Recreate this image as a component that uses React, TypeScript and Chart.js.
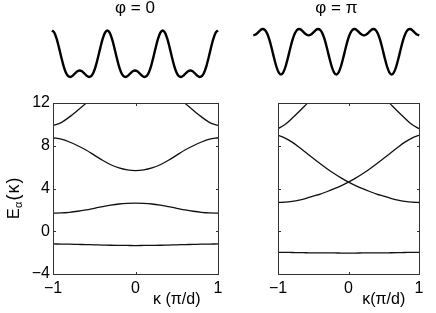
import React, { useEffect, useRef } from "react";
import { Chart, registerables } from "chart.js";

Chart.register(...registerables);

// ---- data ----
const KAPPA = [-1, -0.9, -0.8, -0.7, -0.6, -0.5, -0.4, -0.3, -0.2, -0.1, 0, 0.1, 0.2, 0.3, 0.4, 0.5, 0.6, 0.7, 0.8, 0.9, 1];

// phi = 0 bands
const BAND1_PHI0 = [-1.19, -1.2, -1.21, -1.23, -1.25, -1.27, -1.29, -1.31, -1.32, -1.33, -1.34, -1.33, -1.32, -1.31, -1.29, -1.27, -1.25, -1.23, -1.21, -1.2, -1.19];
const BAND2_PHI0 = [1.69, 1.71, 1.77, 1.87, 2.0, 2.15, 2.3, 2.44, 2.55, 2.61, 2.63, 2.61, 2.55, 2.44, 2.3, 2.15, 2.0, 1.87, 1.77, 1.71, 1.69];
const BAND3_PHI0 = [8.75, 8.62, 8.35, 8.0, 7.6, 7.12, 6.64, 6.22, 5.92, 5.74, 5.68, 5.74, 5.92, 6.22, 6.64, 7.12, 7.6, 8.0, 8.35, 8.62, 8.75];
const BAND4_PHI0 = [9.9, 10.17, 10.7, 11.32, 11.97, 12.64, 13.35, 14.05, 14.7, 15.2, 15.4, 15.2, 14.7, 14.05, 13.35, 12.64, 11.97, 11.32, 10.7, 10.17, 9.9];

// phi = pi bands
const BAND1_PHIPI = [-1.98, -1.98, -1.99, -2.0, -2.01, -2.02, -2.02, -2.03, -2.03, -2.04, -2.04, -2.04, -2.03, -2.03, -2.02, -2.02, -2.01, -2.0, -1.99, -1.98, -1.98];
const BAND_UP_PHIPI = [2.69, 2.72, 2.8, 2.92, 3.08, 3.28, 3.48, 3.72, 3.98, 4.27, 4.6, 4.97, 5.38, 5.83, 6.31, 6.82, 7.34, 7.86, 8.34, 8.72, 8.97];
const BAND_DOWN_PHIPI = [8.97, 8.72, 8.34, 7.86, 7.34, 6.82, 6.31, 5.83, 5.38, 4.97, 4.6, 4.27, 3.98, 3.72, 3.48, 3.28, 3.08, 2.92, 2.8, 2.72, 2.69];
const BAND4_PHIPI = [9.6, 9.98, 10.57, 11.2, 11.87, 12.55, 13.25, 13.95, 14.6, 15.1, 15.3, 15.1, 14.6, 13.95, 13.25, 12.55, 11.87, 11.2, 10.57, 9.98, 9.6];

const X_TICKS = [-1, 0, 1];
const Y_TICKS = [-4, 0, 4, 8, 12];

// potential profiles, sampled every 15 degrees of phase over three periods
const POT_STEP = 15;
const POT_PHI0 = [
  1.55, 1.442, 1.141, 0.707, 0.225, -0.217, -0.55, -0.735, -0.775, -0.707, -0.591, -0.49, -0.45, -0.49, -0.591, -0.707, -0.775, -0.735, -0.55, -0.217, 0.225, 0.707, 1.141, 1.442,
  1.55, 1.442, 1.141, 0.707, 0.225, -0.217, -0.55, -0.735, -0.775, -0.707, -0.591, -0.49, -0.45, -0.49, -0.591, -0.707, -0.775, -0.735, -0.55, -0.217, 0.225, 0.707, 1.141, 1.442,
  1.55, 1.442, 1.141, 0.707, 0.225, -0.217, -0.55, -0.735, -0.775, -0.707, -0.591, -0.49, -0.45, -0.49, -0.591, -0.707, -0.775, -0.735, -0.55, -0.217, 0.225, 0.707, 1.141, 1.442,
  1.55,
];
const POT_PHIPI = [
  0.45, 0.49, 0.591, 0.707, 0.775, 0.735, 0.55, 0.217, -0.225, -0.707, -1.141, -1.442, -1.55, -1.442, -1.141, -0.707, -0.225, 0.217, 0.55, 0.735, 0.775, 0.707, 0.591, 0.49,
  0.45, 0.49, 0.591, 0.707, 0.775, 0.735, 0.55, 0.217, -0.225, -0.707, -1.141, -1.442, -1.55, -1.442, -1.141, -0.707, -0.225, 0.217, 0.55, 0.735, 0.775, 0.707, 0.591, 0.49,
  0.45, 0.49, 0.591, 0.707, 0.775, 0.735, 0.55, 0.217, -0.225, -0.707, -1.141, -1.442, -1.55, -1.442, -1.141, -0.707, -0.225, 0.217, 0.55, 0.735, 0.775, 0.707, 0.591, 0.49,
  0.45,
];

const TITLE_LEFT = "\u03C6 = 0";
const TITLE_RIGHT = "\u03C6 = \u03C0";
const XTITLE_LEFT = "\u03BA (\u03C0/d)";
const XTITLE_RIGHT = "\u03BA(\u03C0/d)";

const FONT = "'Liberation Sans', Arial, Helvetica, sans-serif";

const fmt = (v: number) => (v < 0 ? "\u2212" + Math.abs(v) : String(v));

function frameAndText(opts: { xTitle: string; yTitle: boolean; yTitleY: number }) {
  return {
    id: "frameAndText",
    afterDraw(chart: any) {
      const { ctx, chartArea: a, scales } = chart;
      const xs = scales.x;
      const ys = scales.y;
      ctx.save();
      ctx.strokeStyle = "#333";
      ctx.lineWidth = 1;
      const L = Math.round(a.left) + 0.5;
      const R = Math.round(a.right) + 0.5;
      const T = Math.round(a.top) + 0.5;
      const B = Math.round(a.bottom) + 0.5;
      ctx.strokeRect(L, T, R - L, B - T);
      const tl = 2.5;
      ctx.beginPath();
      X_TICKS.forEach((v) => {
        const px = Math.round(xs.getPixelForValue(v)) + 0.5;
        if (px <= L + 1 || px >= R - 1) return;
        ctx.moveTo(px, B);
        ctx.lineTo(px, B - tl);
        ctx.moveTo(px, T);
        ctx.lineTo(px, T + tl);
      });
      Y_TICKS.forEach((v) => {
        const py = Math.round(ys.getPixelForValue(v)) + 0.5;
        if (py <= T + 1 || py >= B - 1) return;
        ctx.moveTo(L, py);
        ctx.lineTo(L + tl, py);
        ctx.moveTo(R, py);
        ctx.lineTo(R - tl, py);
      });
      ctx.stroke();

      // x axis title
      ctx.fillStyle = "#000";
      ctx.font = `16px ${FONT}`;
      ctx.textAlign = "center";
      ctx.textBaseline = "middle";
      ctx.fillText(opts.xTitle, xs.getPixelForValue(0.5), 210);

      if (opts.yTitle) {
        ctx.translate(18.5, opts.yTitleY);
        ctx.rotate(-Math.PI / 2);
        ctx.textAlign = "left";
        ctx.textBaseline = "alphabetic";
        ctx.font = `16px ${FONT}`;
        ctx.fillText("E", 0, 0);
        ctx.font = `11px ${FONT}`;
        ctx.fillText("\u03B1", 11, 3);
        ctx.font = `18px ${FONT}`;
        ctx.fillText("(", 18.5, 0);
        ctx.fillText("\u03BA", 25.5, 0);
        ctx.fillText(")", 35.5, 0);
      }
      ctx.restore();
    },
  };
}

function titlePlugin(text: string) {
  return {
    id: "potTitle",
    afterDraw(chart: any) {
      const { ctx, chartArea: a } = chart;
      ctx.save();
      ctx.fillStyle = "#000";
      ctx.font = `17px ${FONT}`;
      ctx.textAlign = "center";
      ctx.textBaseline = "middle";
      ctx.fillText(text, (a.left + a.right) / 2, 8);
      ctx.restore();
    },
  };
}

function bandConfig(bands: number[][], opts: { yLabels: boolean; padLeft: number; padRight: number; xTitle: string }) {
  return {
    type: "line",
    data: {
      datasets: bands.map((b) => ({
        data: KAPPA.map((k, i) => ({ x: k, y: b[i] })),
        borderColor: "#111",
        borderWidth: 1.3,
        pointRadius: 0,
        fill: false,
        cubicInterpolationMode: "monotone",
      })),
    },
    options: {
      animation: false,
      responsive: false,
      maintainAspectRatio: false,
      events: [],
      layout: { padding: { top: 13, right: opts.padRight, bottom: 0, left: opts.yLabels ? 0 : opts.padLeft } },
      plugins: { legend: { display: false }, tooltip: { enabled: false }, title: { display: false } },
      scales: {
        x: {
          type: "linear",
          min: -1,
          max: 1,
          afterBuildTicks: (s: any) => {
            s.ticks = X_TICKS.map((v) => ({ value: v }));
          },
          afterFit: (s: any) => {
            s.height = 39;
          },
          grid: { display: false, drawTicks: false },
          border: { display: false },
          ticks: {
            padding: 5,
            color: "#000",
            font: { size: 16, family: FONT },
            maxRotation: 0,
            autoSkip: false,
            callback: (v: number) => fmt(v),
          },
        },
        y: {
          type: "linear",
          min: -4,
          max: 12,
          display: opts.yLabels,
          afterBuildTicks: (s: any) => {
            s.ticks = Y_TICKS.map((v) => ({ value: v }));
          },
          afterFit: (s: any) => {
            s.width = opts.padLeft;
          },
          grid: { display: false, drawTicks: false },
          border: { display: false },
          ticks: {
            padding: 3,
            color: "#000",
            font: { size: 16, family: FONT },
            callback: (v: number) => fmt(v),
          },
        },
      },
    },
    plugins: [frameAndText({ xTitle: opts.xTitle, yTitle: opts.yLabels, yTitleY: 129 })],
  };
}

function potConfig(values: number[], pad: { left: number; right: number; top: number; bottom: number }, title: string) {
  let lo = Infinity;
  let hi = -Infinity;
  values.forEach((v) => {
    lo = Math.min(lo, v);
    hi = Math.max(hi, v);
  });
  return {
    type: "line",
    data: {
      datasets: [
        {
          data: values.map((v, i) => ({ x: i * POT_STEP, y: v })),
          borderColor: "#000",
          borderWidth: 2.4,
          pointRadius: 0,
          fill: false,
          cubicInterpolationMode: "monotone",
          clip: false,
        },
      ],
    },
    options: {
      animation: false,
      responsive: false,
      maintainAspectRatio: false,
      events: [],
      layout: { padding: pad },
      plugins: { legend: { display: false }, tooltip: { enabled: false } },
      scales: {
        x: { type: "linear", min: 0, max: (values.length - 1) * POT_STEP, display: false },
        y: { type: "linear", min: lo, max: hi, display: false },
      },
    },
    plugins: [titlePlugin(title)],
  };
}

export default function App() {
  const potL = useRef<HTMLCanvasElement>(null);
  const potR = useRef<HTMLCanvasElement>(null);
  const bandL = useRef<HTMLCanvasElement>(null);
  const bandR = useRef<HTMLCanvasElement>(null);

  useEffect(() => {
    const charts: Chart[] = [];
    charts.push(
      new Chart(potL.current as HTMLCanvasElement, potConfig(POT_PHI0, { left: 12, right: 12, top: 30.5, bottom: 13 }, TITLE_LEFT) as any)
    );
    charts.push(
      new Chart(potR.current as HTMLCanvasElement, potConfig(POT_PHIPI, { left: 13.3, right: 16.7, top: 29, bottom: 15.5 }, TITLE_RIGHT) as any)
    );
    charts.push(
      new Chart(
        bandL.current as HTMLCanvasElement,
        bandConfig([BAND1_PHI0, BAND2_PHI0, BAND3_PHI0, BAND4_PHI0], { yLabels: true, padLeft: 53, padRight: 10, xTitle: XTITLE_LEFT }) as any
      )
    );
    charts.push(
      new Chart(
        bandR.current as HTMLCanvasElement,
        bandConfig([BAND1_PHIPI, BAND_UP_PHIPI, BAND_DOWN_PHIPI, BAND4_PHIPI], { yLabels: false, padLeft: 25, padRight: 17, xTitle: XTITLE_RIGHT }) as any
      )
    );
    return () => charts.forEach((c) => c.destroy());
  }, []);

  const abs = (left: number, top: number): React.CSSProperties => ({ position: "absolute", left, top, display: "block" });

  return (
    <div style={{ position: "absolute", left: 0, top: 0, width: 436, height: 313, background: "#fff", overflow: "hidden" }}>
      <canvas ref={potL} width={190} height={90} style={{ ...abs(40, 0), width: 190, height: 90 }} />
      <canvas ref={potR} width={196} height={90} style={{ ...abs(240, 0), width: 196, height: 90 }} />
      <canvas ref={bandL} width={228} height={223} style={{ ...abs(0, 90), width: 228, height: 223 }} />
      <canvas ref={bandR} width={208} height={223} style={{ ...abs(228, 90), width: 208, height: 223 }} />
    </div>
  );
}
